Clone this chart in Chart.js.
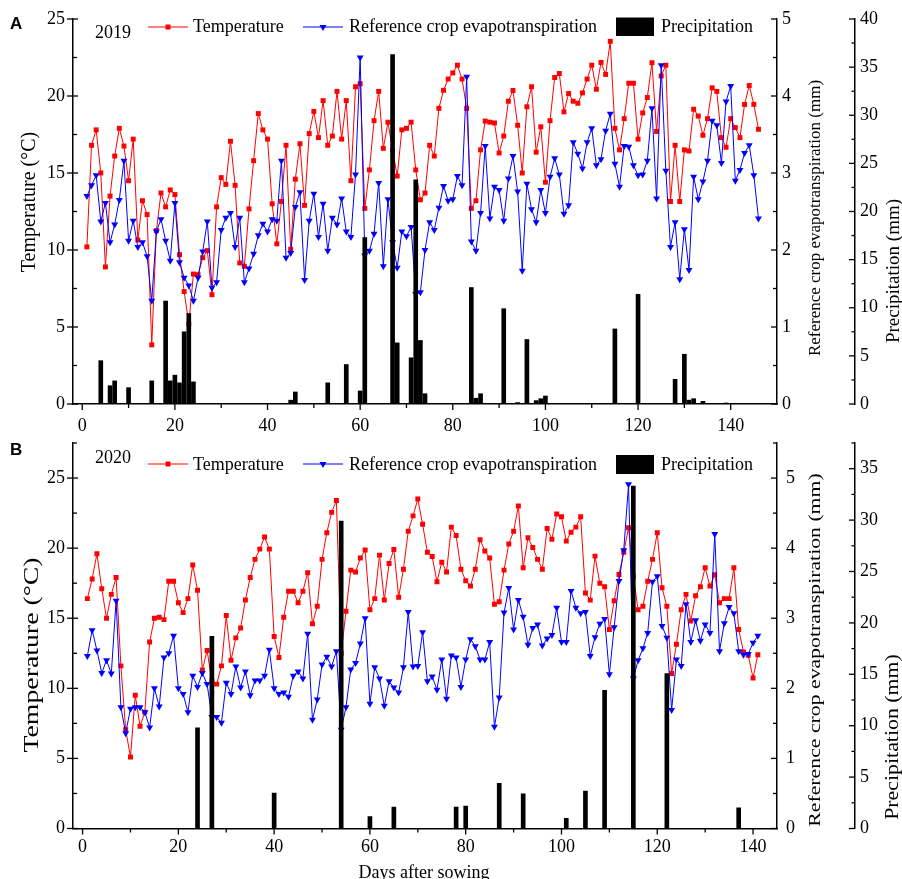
<!DOCTYPE html>
<html>
<head>
<meta charset="UTF-8">
<title>Temperature, reference crop evapotranspiration and precipitation</title>
<script src="https://cdn.jsdelivr.net/npm/chart.js"></script>
<style>
    body { margin: 0; background: #fff; }
    #wrap { position: relative; width: 902px; height: 879px; overflow: hidden; }
    canvas { position: absolute; left: 0; }
    #c2019 { top: 0; }
    #c2020 { top: 440px; }
</style>
</head>
<body>
<div id="wrap">
    <canvas id="c2019" width="902" height="440"></canvas>
    <canvas id="c2020" width="902" height="439"></canvas>
</div>
<script>
// ---- 2019 (panel A), one value per day after sowing, starting at day 1
const temp2019 = [10.2, 16.8, 17.8, 15.0, 8.9, 13.5, 16.1, 17.9, 16.75, 14.5,
    17.2, 10.65, 13.2, 12.3, 3.84, 11.26, 13.7, 12.8, 13.9, 13.6,
    9.7, 7.3, 5.2, 8.44, 8.4, 9.5, 9.96, 7.1, 12.8, 14.7,
    14.26, 17.06, 14.2, 9.16, 8.94, 12.67, 15.8, 18.86, 17.8, 17.2,
    13.0, 10.4, 13.15, 16.8, 10.05, 14.6, 16.9, 12.9, 17.56, 19.0,
    17.3, 19.7, 16.8, 17.4, 20.3, 17.2, 19.7, 14.5, 20.6, 20.8,
    12.7, 15.2, 18.4, 20.3, 16.6, 18.3, 16.5, 14.8, 17.8, 17.9,
    18.3, 15.2, 13.26, 13.7, 16.8, 16.1, 19.2, 20.37, 21.1, 21.5,
    22.0, 21.1, 19.2, 12.7, 13.2, 16.5, 18.37, 18.3, 18.25, 16.3,
    17.4, 19.66, 20.36, 18.1, 15.0, 19.3, 20.6, 16.35, 18.0, 14.4,
    18.4, 21.2, 21.46, 18.97, 20.16, 19.66, 19.53, 20.2, 21.1, 22.0,
    20.44, 22.18, 21.4, 23.55, 17.9, 16.5, 18.53, 20.83, 20.83, 17.2,
    18.9, 19.9, 22.16, 17.7, 21.3, 22.0, 13.15, 16.8, 13.15, 16.5,
    16.43, 19.14, 18.7, 17.45, 18.53, 20.53, 20.3, 17.3, 16.67, 18.53,
    17.95, 17.3, 19.45, 20.68, 19.46, 17.84];
const et02019 = [2.7, 2.84, 2.97, 2.37, 2.61, 2.1, 2.33, 2.65, 3.16, 2.12,
    2.38, 2.04, 2.1, 1.92, 1.34, 2.24, 2.4, 2.12, 1.86, 2.61,
    1.84, 1.64, 1.54, 1.34, 1.64, 1.98, 2.37, 1.51, 1.58, 2.26,
    2.42, 2.48, 2.04, 2.42, 1.58, 1.76, 1.95, 2.19, 2.34, 2.24,
    2.4, 2.38, 3.16, 1.9, 1.96, 2.56, 2.75, 1.61, 2.38, 2.73,
    2.17, 2.6, 1.99, 2.42, 2.33, 2.67, 2.24, 2.17, 2.98, 4.5,
    1.93, 1.99, 2.21, 2.87, 1.79, 2.66, 2.1, 1.77, 2.24, 2.18,
    2.3, 1.43, 1.45, 2.0, 2.36, 2.26, 2.55, 2.83, 2.64, 2.66,
    2.96, 2.84, 4.25, 2.11, 1.99, 2.48, 3.35, 2.41, 2.82, 2.78,
    2.38, 2.93, 3.22, 2.76, 1.73, 2.86, 2.53, 2.36, 2.78, 2.48,
    2.95, 3.19, 2.98, 2.47, 2.58, 3.4, 3.25, 3.06, 3.4, 3.58,
    3.1, 3.18, 3.55, 3.77, 3.12, 2.82, 3.35, 3.34, 3.1, 2.97,
    2.98, 3.16, 3.84, 2.67, 4.4, 3.03, 2.04, 2.36, 1.62, 2.27,
    1.74, 2.95, 2.66, 2.89, 3.16, 3.68, 3.62, 3.13, 3.93, 4.13,
    2.9, 3.04, 3.26, 3.36, 2.97, 2.41];
const rainDays2019 = [4, 6, 7, 10, 15, 18, 19, 20, 21, 22, 23, 24, 45, 46, 53, 57, 60, 61,
    67, 68, 71, 72, 73, 74, 84, 85, 86, 91, 94, 96, 98, 99, 100, 115, 120, 128, 130, 131, 132, 134, 139];
const rain2019 = [4.5, 1.9, 2.4, 1.7, 2.4, 10.7, 2.4, 3.0, 2.2, 7.5, 9.4, 2.3, 0.4, 1.25, 2.2, 4.1, 1.35, 17.3,
    36.3, 6.35, 4.8, 23.3, 6.6, 1.07, 12.1, 0.6, 1.07, 9.9, 0.15, 6.7, 0.35, 0.55, 0.83, 7.8, 11.4, 2.57, 5.17, 0.4, 0.55, 0.28, 0.1];

// ---- 2020 (panel B)
const temp2020 = [16.4, 17.8, 19.6, 17.1, 15.0, 16.7, 17.9, 11.6, 7.05, 5.1,
    9.5, 7.3, 8.3, 13.3, 15.0, 15.07, 14.9, 17.64, 17.64, 16.1,
    15.4, 16.4, 18.8, 17.0, 11.3, 12.7, 10.5, 10.3, 11.6, 15.2,
    12.0, 13.6, 14.3, 16.3, 17.9, 19.2, 19.93, 20.8, 19.93, 13.7,
    12.2, 15.07, 16.93, 16.93, 16.1, 16.93, 18.24, 14.6, 15.86, 19.2,
    21.1, 22.55, 23.4, 12.5, 15.5, 18.43, 18.3, 19.3, 19.86, 15.6,
    16.4, 19.5, 16.3, 18.9, 19.9, 16.5, 18.5, 21.2, 22.3, 23.5,
    21.7, 19.7, 19.4, 17.6, 19.0, 18.3, 21.5, 20.9, 18.5, 17.67,
    17.3, 18.5, 20.6, 19.8, 19.3, 16.0, 16.17, 18.43, 20.3, 21.2,
    23.0, 18.6, 20.74, 20.05, 19.2, 18.5, 21.4, 20.64, 22.43, 22.24,
    20.5, 21.14, 21.5, 22.24, 16.8, 16.29, 19.43, 17.5, 17.24, 14.2,
    16.24, 18.12, 19.7, 21.45, 18.0, 15.6, 15.86, 17.64, 19.2, 21.1,
    17.17, 15.86, 11.05, 13.14, 15.6, 16.7, 14.8, 16.6, 17.24, 18.6,
    17.3, 18.1, 16.1, 16.4, 16.4, 18.6, 14.2, 12.6, 12.36, 10.74,
    12.4];
const et02020 = [2.46, 2.83, 2.54, 2.22, 2.4, 2.21, 3.25, 1.73, 1.36, 1.71,
    1.73, 1.73, 1.66, 1.44, 2.0, 1.74, 2.44, 2.5, 2.75, 2.0,
    1.92, 1.66, 2.18, 2.02, 2.22, 2.06, 1.59, 1.59, 1.51, 2.08,
    1.92, 2.31, 2.01, 2.24, 1.9, 2.11, 2.11, 2.18, 2.55, 2.0,
    1.92, 1.94, 1.88, 2.18, 2.24, 2.14, 2.78, 1.55, 1.84, 2.34,
    2.45, 2.31, 2.53, 1.41, 1.73, 2.27, 2.36, 2.64, 3.0, 1.78,
    2.3, 2.14, 1.75, 2.1, 2.01, 1.94, 2.3, 3.09, 2.31, 2.32,
    2.8, 2.1, 2.17, 1.98, 2.41, 1.85, 2.47, 2.44, 2.02, 2.41,
    2.7, 2.6, 2.41, 2.41, 2.66, 1.45, 1.87, 3.08, 3.43, 2.84,
    3.26, 3.02, 2.62, 2.86, 2.91, 2.61, 2.71, 2.76, 3.15, 2.66,
    2.66, 3.39, 3.15, 3.07, 3.09, 2.46, 2.73, 2.92, 2.99, 2.2,
    2.87, 3.53, 3.97, 4.91, 2.14, 2.4, 2.57, 2.79, 3.52, 3.6,
    2.89, 2.72, 1.69, 2.41, 2.32, 3.2, 2.66, 2.97, 2.68, 2.91,
    2.79, 4.2, 2.53, 2.93, 3.16, 3.07, 2.53, 2.48, 2.49, 2.65,
    2.75];
const rainDays2020 = [24, 27, 40, 54, 60, 65, 78, 80, 87, 92, 101, 105, 109, 115, 122, 137];
const rain2020 = [9.8, 18.7, 3.44, 29.9, 1.17, 2.08, 2.08, 2.17, 4.4, 3.38, 1.0, 3.64, 13.45, 33.3, 15.08, 2.0];

// ---- tick labels
const dayTicks = [0, 20, 40, 60, 80, 100, 120, 140];
const tempTicks = [0, 5, 10, 15, 20, 25];
const et0Ticks = [0, 1, 2, 3, 4, 5];
const rainTicks2019 = [0, 5, 10, 15, 20, 25, 30, 35, 40];
const rainTicks2020 = [0, 5, 10, 15, 20, 25, 30, 35];

const SERIF = "'Liberation Serif', 'Times New Roman', serif";

function line(ctx, x0, y0, x1, y1) {
    ctx.beginPath();
    ctx.moveTo(x0, y0);
    ctx.lineTo(x1, y1);
    ctx.stroke();
}

function isStep(v, step) {
    return Math.abs(v / step - Math.round(v / step)) < 1e-6;
}

// rotated axis title, sy stretches it along its length
function vText(ctx, text, x, y, size, sy) {
    ctx.save();
    ctx.translate(x, y);
    ctx.scale(1, sy);
    ctx.rotate(-Math.PI / 2);
    ctx.font = size + 'px ' + SERIF;
    ctx.textAlign = 'center';
    ctx.textBaseline = 'middle';
    ctx.fillText(text, 0, 0);
    ctx.restore();
}

// tick marks, in-plot legend, titles and panel letter
const decoPlugin = {
    id: 'deco',
    afterDraw(chart, args, o) {
        const ctx = chart.ctx, s = chart.scales, a = chart.chartArea;
        ctx.save();
        ctx.strokeStyle = '#000';
        ctx.fillStyle = '#000';
        ctx.lineWidth = 1.3;

        for (let v = 0; v <= s.y.max + 1e-6; v += 2.5) {
            const p = s.y.getPixelForValue(v);
            if (isStep(v, 5)) line(ctx, a.left - 6, p, a.left + 5, p);
            else line(ctx, a.left, p, a.left + 4, p);
        }
        for (let v = 0; v <= s.x.max - 3; v += 10) {
            const p = s.x.getPixelForValue(v);
            line(ctx, p, a.bottom, p, a.bottom + (isStep(v, 20) ? 6 : 4));
        }
        for (let v = 0; v <= s.y1.max + 1e-6; v += 0.5) {
            const p = s.y1.getPixelForValue(v);
            line(ctx, a.right - (isStep(v, 1) ? 6 : 4), p, a.right, p);
        }
        const r2 = s.y2.left;
        for (let v = 0; v <= s.y2.max + 1e-6; v += 2.5) {
            const p = s.y2.getPixelForValue(v);
            line(ctx, r2 - (isStep(v, 5) ? 6 : 3.5), p, r2, p);
        }

        // panel letter
        ctx.font = "bold 17px 'Liberation Sans', Arial, sans-serif";
        ctx.textAlign = 'left';
        ctx.textBaseline = 'alphabetic';
        ctx.fillText(o.tag, 10, o.tagY);

        // legend
        const ds = chart.data.datasets;
        const ly = o.lineY;
        ctx.font = '18px ' + SERIF;
        ctx.fillText(o.year, 95, o.yearY);

        ctx.lineWidth = 1;
        ctx.strokeStyle = '#ff0000';
        ctx.fillStyle = '#ff0000';
        line(ctx, 148, ly, 188, ly);
        ctx.fillRect(165.5, ly - 2.5, 5, 5);
        ctx.fillStyle = '#000';
        ctx.fillText(ds[2].label, 193, o.textY);

        ctx.strokeStyle = '#0000ff';
        ctx.fillStyle = '#0000ff';
        line(ctx, 303, ly, 343, ly);
        ctx.beginPath();
        ctx.moveTo(319.5, ly - 2);
        ctx.lineTo(326.5, ly - 2);
        ctx.lineTo(323, ly + 4);
        ctx.closePath();
        ctx.fill();
        ctx.fillStyle = '#000';
        ctx.fillText(ds[1].label, 349, o.textY);

        ctx.fillRect(616, o.rectTop, 38, o.rectH);
        ctx.fillText(ds[0].label, 661, o.textY);

        // axis titles
        const t = o.titles;
        vText(ctx, 'Temperature (\u00B0C)', t.left[0], t.left[1], t.left[2], t.left[3]);
        vText(ctx, 'Reference crop evapotranspiration (mm)', t.et0[0], t.et0[1], t.et0[2], t.et0[3]);
        vText(ctx, 'Precipitation (mm)', t.rain[0], t.rain[1], t.rain[2], t.rain[3]);
        if (o.xTitle) {
            ctx.font = '18px ' + SERIF;
            ctx.textAlign = 'center';
            ctx.fillText('Days after sowing', o.xTitle[0], o.xTitle[1]);
        }
        ctx.restore();
    }
};

const tickFont = { family: SERIF, size: 18 };
const setTicks = arr => s => { s.ticks = arr.map(v => ({ value: v })); };
const noPad = s => { s.paddingTop = 0; s.paddingBottom = 0; s.paddingLeft = 0; s.paddingRight = 0; };

function axis(extra) {
    return Object.assign({
        grid: { display: false, drawTicks: false },
        border: { display: true, color: '#000', width: 1.5 },
        ticks: { font: tickFont, color: '#000', autoSkip: false, maxRotation: 0 }
    }, extra);
}

function panel(id, p) {
    return new Chart(document.getElementById(id), {
        type: 'line',
        data: {
            datasets: [{
                type: 'bar',
                label: 'Precipitation',
                yAxisID: 'y2',
                order: 0,
                data: p.rainDays.map((d, i) => ({ x: d, y: p.rain[i] })),
                backgroundColor: '#000',
                barThickness: 4
            }, {
                label: 'Reference crop evapotranspiration',
                yAxisID: 'y1',
                order: 1,
                data: p.et0.map((v, i) => ({ x: i + 1, y: v })),
                borderColor: '#0000ff',
                backgroundColor: '#0000ff',
                borderWidth: 1,
                pointStyle: 'triangle',
                rotation: 180,
                pointRadius: 4,
                pointBorderWidth: 0
            }, {
                label: 'Temperature',
                yAxisID: 'y',
                order: 2,
                data: p.temp.map((v, i) => ({ x: i + 1, y: v })),
                borderColor: '#ff0000',
                backgroundColor: '#ff0000',
                borderWidth: 1,
                pointStyle: 'rect',
                pointRadius: 3.5,
                pointBorderWidth: 0
            }]
        },
        options: {
            responsive: false,
            animation: false,
            events: [],
            layout: { autoPadding: false, padding: { top: p.padTop, left: 0, right: 0, bottom: 0 } },
            plugins: { legend: { display: false }, tooltip: { enabled: false }, deco: p.deco },
            scales: {
                x: axis({
                    type: 'linear', min: -2, max: p.xMax, offset: false,
                    afterBuildTicks: setTicks(dayTicks),
                    afterFit: s => { s.height = p.xHeight; noPad(s); },
                    ticks: { font: tickFont, color: '#000', autoSkip: false, maxRotation: 0, padding: p.xPad }
                }),
                y: axis({
                    position: 'left', min: 0, max: p.tMax,
                    afterBuildTicks: setTicks(tempTicks),
                    afterFit: s => { s.width = 73; noPad(s); },
                    ticks: { font: tickFont, color: '#000', padding: 8 }
                }),
                y1: axis({
                    position: 'right', min: 0, max: p.eMax, weight: 0,
                    afterBuildTicks: setTicks(et0Ticks),
                    afterFit: s => { s.width = 78; noPad(s); },
                    ticks: { font: tickFont, color: '#000', padding: p.ePad }
                }),
                y2: axis({
                    position: 'right', min: 0, max: p.rMax, weight: 1,
                    afterBuildTicks: setTicks(p.rainTicks),
                    afterFit: s => { s.width = 47; noPad(s); },
                    ticks: { font: tickFont, color: '#000', padding: 5 }
                })
            }
        },
        plugins: [decoPlugin]
    });
}

panel('c2019', {
    temp: temp2019, et0: et02019, rainDays: rainDays2019, rain: rain2019, rainTicks: rainTicks2019,
    xMax: 150, tMax: 25, eMax: 5, rMax: 40,
    padTop: 19, xHeight: 36, xPad: 11, ePad: 5,
    deco: {
        tag: 'A', tagY: 28.5, year: '2019', yearY: 38.3,
        lineY: 27, textY: 32, rectTop: 17.5, rectH: 18.5,
        titles: { left: [30, 202, 20, 1], et0: [816, 218, 17, 1], rain: [894, 271, 19, 1] },
        xTitle: null
    }
});

panel('c2020', {
    temp: temp2020, et0: et02020, rainDays: rainDays2020, rain: rain2020, rainTicks: rainTicks2020,
    xMax: 145, tMax: 27.5, eMax: 5.5, rMax: 37.5,
    padTop: 3, xHeight: 50.5, xPad: 8, ePad: 9,
    deco: {
        tag: 'B', tagY: 15, year: '2020', yearY: 22.7,
        lineY: 24, textY: 30.2, rectTop: 15, rectH: 19,
        titles: { left: [33, 215, 20, 1.39], et0: [816, 210, 17, 1.28], rain: [893, 297, 19, 1.15] },
        xTitle: [424, 437.5]
    }
});
</script>
</body>
</html>
